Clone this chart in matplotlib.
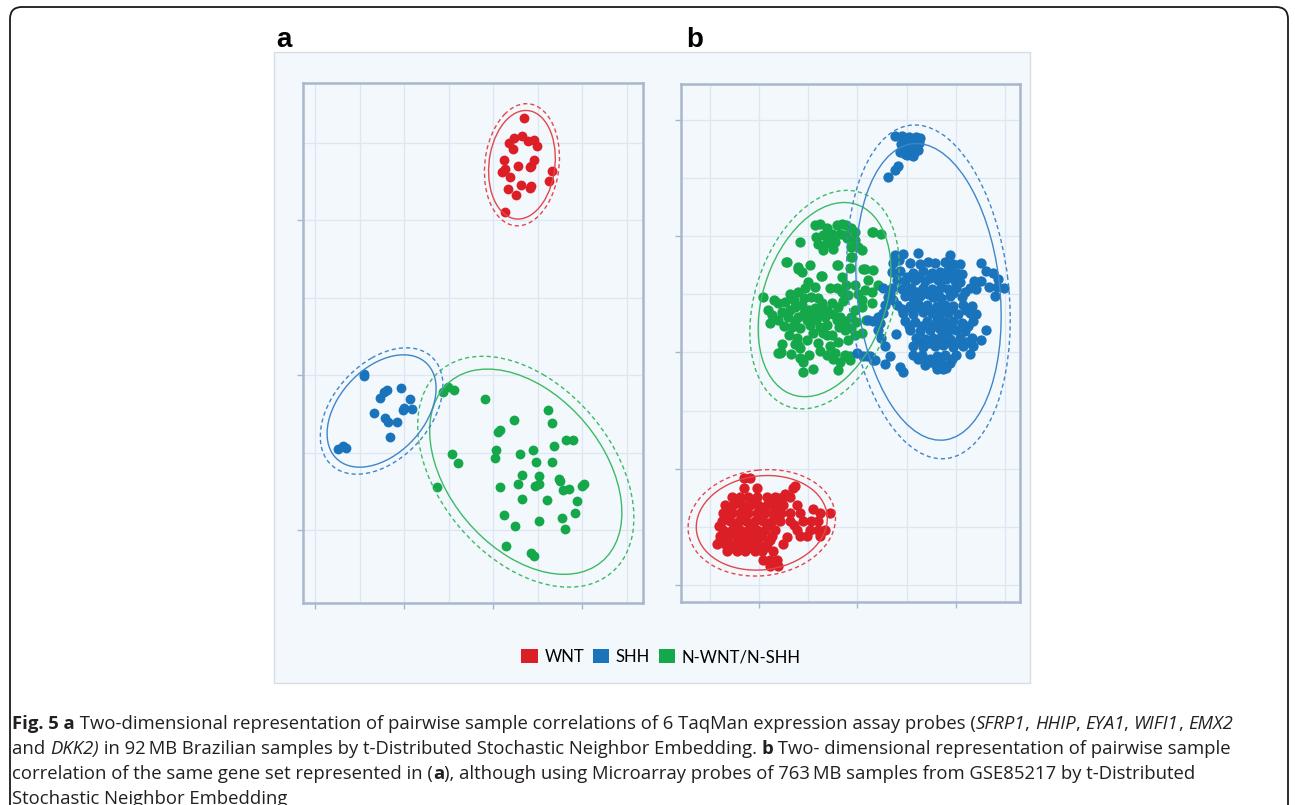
import numpy as np
import matplotlib
matplotlib.use('Agg')
import matplotlib.pyplot as plt
from matplotlib.patches import Ellipse, Patch, FancyBboxPatch, Rectangle
from matplotlib.transforms import IdentityTransform

# ---- panel a: 92 MB Brazilian samples (t-SNE coordinates) ----
a_wnt = [(13.5, 16.6), (11.8, 15.0), (12.4, 15.3), (13.3, 15.4), (13.9, 15.1), (14.6, 15.2),
         (14.9, 14.8), (12.3, 14.6), (11.2, 13.9), (14.6, 13.9), (14.3, 13.5), (14.1, 13.4),
         (11.3, 13.3), (11.0, 13.1), (12.8, 13.5), (11.9, 12.8), (16.6, 13.2), (16.3, 12.5),
         (13.1, 12.3), (11.7, 12.0), (14.3, 12.2), (14.1, 12.1), (12.6, 11.6), (11.4, 10.5)]
a_shh = [(-4.55, 0.1), (-4.5, -0.06), (-2.3, -1.08), (-1.94, -0.93), (-2.69, -1.49), (-0.37, -0.82),
         (0.67, -1.51), (0.86, -2.16), (-0.15, -2.26), (0.0, -2.15), (-3.32, -2.44), (-2.13, -2.74),
         (-1.75, -3.02), (-0.78, -3.04), (-1.6, -3.97), (-7.43, -4.74), (-6.87, -4.59), (-6.49, -4.72)]
a_other = [(4.4, -1.08), (4.96, -0.75), (5.6, -0.97), (9.07, -1.55), (12.31, -2.91), (16.16, -2.22),
           (16.57, -3.06), (10.56, -3.66), (10.75, -3.51), (18.2, -4.16), (19.03, -4.2), (16.8, -4.59),
           (10.37, -4.85), (10.22, -5.32), (5.34, -5.11), (6.08, -5.65), (13.02, -5.06), (14.48, -4.85),
           (14.85, -5.63), (16.6, -5.6), (13.28, -6.47), (15.15, -6.53), (14.74, -7.16), (15.15, -7.05),
           (12.8, -7.05), (10.82, -7.24), (17.43, -6.72), (17.57, -6.81), (17.84, -7.43), (18.5, -7.33),
           (20.0, -7.16), (20.26, -7.0), (19.4, -8.1), (13.25, -7.97), (16.04, -8.04), (3.73, -7.2),
           (11.23, -9.03), (12.5, -9.72), (15.11, -9.38), (17.76, -9.22), (19.18, -8.9), (18.13, -9.94),
           (11.46, -11.01), (14.29, -11.47), (14.59, -11.64)]

# ---- panel b: 763 MB samples from GSE85217 ----
b_wnt = [(-23.1, -21.6), (-21.8, -21.6),
         (-23.1, -23.3), (-20.4, -23.3), (-13.0, -23.3),
         (-25.5, -24.8), (-23.8, -24.8), (-22.1, -24.8), (-20.4, -24.8), (-18.4, -24.8), (-16.7, -24.8),
         (-15.0, -24.8), (-13.7, -24.8),
         (-26.9, -26.2), (-25.2, -26.2), (-23.5, -26.2), (-21.8, -26.2), (-20.1, -26.2), (-18.4, -26.2),
         (-16.7, -26.2), (-15.0, -26.2), (-12.3, -26.2),
         (-27.2, -27.6), (-25.5, -27.6), (-23.8, -27.6), (-22.1, -27.6), (-20.4, -27.6), (-18.7, -27.6),
         (-17.1, -27.6), (-15.4, -27.6), (-13.7, -27.6), (-11.6, -27.6), (-7.6, -27.6), (-5.6, -27.6),
         (-27.5, -29.0), (-25.8, -29.0), (-24.1, -29.0), (-22.5, -29.0), (-20.8, -29.0), (-19.1, -29.0),
         (-17.4, -29.0), (-15.7, -29.0), (-13.7, -29.0), (-11.0, -29.0), (-9.3, -29.0), (-7.9, -29.0),
         (-27.2, -30.5), (-25.5, -30.5), (-23.8, -30.5), (-22.1, -30.5), (-20.4, -30.5), (-18.7, -30.5),
         (-16.7, -30.5), (-12.3, -30.5), (-9.6, -30.5), (-7.9, -30.5), (-6.6, -30.5),
         (-27.9, -31.6), (-26.2, -31.6), (-24.5, -31.6), (-22.8, -31.6), (-21.1, -31.6), (-19.4, -31.6),
         (-17.4, -31.6), (-11.6, -31.6), (-10.3, -31.6), (-7.6, -31.6),
         (-28.5, -33.0), (-26.9, -33.0), (-25.2, -33.0), (-23.5, -33.0), (-21.8, -33.0), (-20.1, -33.0),
         (-18.4, -33.0), (-15.0, -33.0),
         (-26.5, -34.2), (-24.5, -34.2), (-22.8, -34.2), (-20.8, -34.2), (-19.4, -34.2), (-17.1, -34.2),
         (-19.1, -35.6), (-17.7, -35.6), (-16.4, -35.6),
         (-17.7, -36.8), (-16.0, -36.8),
         (-16.0, -25.0), (-14.7, -24.3), (-12.7, -23.0),
         (-24.6, -25.5), (-21.0, -25.4), (-17.5, -25.6), (-26.0, -26.9), (-22.6, -27.0), (-19.3, -26.8),
         (-16.0, -27.0), (-26.4, -28.3), (-23.0, -28.4), (-19.8, -28.2), (-16.4, -28.3), (-28.0, -29.8),
         (-24.9, -29.7), (-21.5, -29.9), (-18.0, -29.7), (-26.6, -31.0), (-23.3, -31.1), (-20.0, -30.9),
         (-27.8, -32.3), (-24.2, -32.4), (-20.9, -32.2), (-17.8, -32.3), (-25.6, -33.7), (-22.2, -33.6),
         (-18.6, -33.5), (-14.2, -31.8), (-12.8, -29.6), (-9.0, -27.0)]
b_shh = [(7.6, 16.7), (9.3, 16.9), (12.4, 17.1), (18.8, 16.8),
         (7.3, 15.3), (10.7, 15.4), (12.7, 15.2), (14.4, 15.5), (15.8, 15.3), (17.8, 15.6), (19.5, 15.2),
         (20.8, 15.1), (25.2, 15.4),
         (7.0, 13.8), (8.7, 14.0), (11.4, 13.7), (13.4, 13.9), (15.1, 13.6), (16.8, 13.8), (18.5, 14.1),
         (20.1, 13.7), (21.2, 13.5), (26.2, 14.0), (27.6, 13.6),
         (8.0, 12.4), (9.7, 12.2), (11.7, 12.5), (13.7, 12.3), (16.4, 12.4), (18.1, 12.6), (19.8, 12.3),
         (20.8, 12.1), (25.2, 12.3), (28.6, 12.6),
         (5.3, 11.0), (7.0, 11.1), (9.0, 10.9), (11.0, 11.1), (13.4, 11.0), (15.1, 10.8), (17.1, 11.2),
         (18.5, 10.9), (20.1, 11.0), (22.8, 11.1), (24.2, 10.8), (28.3, 11.3), (29.9, 11.0),
         (6.3, 9.5), (9.7, 9.6), (11.4, 9.4), (12.7, 9.7), (15.4, 9.5), (17.1, 9.3), (18.8, 9.6),
         (21.2, 9.5), (27.9, 9.6),
         (5.6, 8.1), (8.0, 8.2), (10.7, 8.0), (12.4, 8.3), (14.1, 8.1), (16.1, 7.9), (17.8, 8.2),
         (19.5, 8.0), (21.5, 8.1), (23.2, 7.9),
         (5.3, 6.7), (9.3, 6.8), (11.4, 6.6), (13.4, 6.9), (15.1, 6.7), (16.8, 6.5), (18.5, 6.8),
         (20.5, 6.6), (22.8, 6.7), (24.2, 6.5),
         (3.2, 5.3), (4.6, 5.0), (9.7, 5.4), (11.7, 5.2), (14.1, 5.3), (16.1, 5.5), (17.8, 5.2),
         (19.5, 5.4), (21.2, 5.1), (23.5, 5.3),
         (4.3, 3.8), (10.7, 3.9), (12.7, 3.7), (14.7, 3.8), (16.8, 4.0), (18.5, 3.7), (20.1, 3.9),
         (21.8, 3.6), (26.2, 3.8),
         (4.9, 2.4), (12.0, 2.5), (13.7, 2.3), (15.4, 2.4), (17.1, 2.6), (18.8, 2.3), (20.8, 2.4),
         (23.2, 2.5), (25.2, 2.2),
         (5.6, 1.0), (11.4, 1.1), (13.4, 0.9), (15.8, 1.0), (17.4, 1.2), (19.5, 0.9), (21.5, 1.0),
         (23.5, 1.1),
         (6.6, -0.6), (11.4, -0.4), (13.1, -0.5), (16.1, -0.6), (17.8, -0.4), (20.1, -0.5), (22.8, -0.3),
         (5.6, -2.0), (14.1, -1.9), (15.8, -2.0), (17.1, -1.8), (18.8, -1.9),
         (1.9, -0.7), (3.6, -1.3), (8.7, -2.6), (9.3, -3.3), (18.1, -2.7),
         (16.1, -2.8), (17.4, -2.9), (13.7, -2.2), (-0.1, -0.2), (1.2, -0.7), (2.6, -0.7), (3.2, -1.3),
         (2.2, 5.5), (4.2, 6.0), (6.6, 10.1), (7.6, 16.4),
         (10.2, 12.9), (12.5, 13.0), (14.8, 12.8), (17.2, 13.0), (19.2, 12.9), (10.0, 10.2), (12.2, 10.4),
         (14.3, 10.1), (16.3, 10.3), (19.5, 10.2), (21.8, 10.3), (9.1, 7.5), (11.2, 7.4), (13.0, 7.6),
         (15.0, 7.3), (17.0, 7.5), (19.0, 7.4), (22.0, 7.3), (10.5, 4.6), (13.2, 4.5), (15.3, 4.6),
         (17.3, 4.5), (19.0, 4.7), (22.4, 4.6), (13.0, 1.7), (14.6, 1.6), (16.5, 1.8), (18.2, 1.7),
         (20.0, 1.6), (22.2, 1.8), (12.3, -1.2), (14.8, -1.1), (16.9, -1.2), (19.2, -1.1), (7.8, 3.2),
         (7.2, 9.0), (8.4, 15.9), (23.8, 12.2), (26.8, 11.2),
         # tight group at the top
         (8.6, 34.5), (8.9, 35.8), (9.3, 36.8), (9.6, 34.1), (9.9, 35.2), (10.2, 36.4), (10.5, 37.0),
         (10.7, 34.6), (11.0, 35.7), (11.2, 36.7), (11.5, 34.2), (11.8, 35.3), (12.1, 36.3), (12.3, 34.8),
         (12.6, 35.9), (12.8, 36.8), (10.1, 33.9), (11.3, 33.8), (12.0, 37.0), (9.0, 37.1), (7.7, 37.2),
         (10.6, 35.6), (8.3, 32.0), (7.7, 31.4), (6.3, 30.1)]
b_other = [(-8.6, 21.8), (-7.6, 22.1), (-6.2, 21.3), (-8.3, 19.8), (-6.9, 20.1), (-5.2, 20.4),
           (-4.2, 21.8), (-3.2, 22.1), (-2.2, 21.8), (-1.2, 21.3), (-3.5, 20.4), (-2.5, 20.1),
           (-0.5, 20.7), (-0.5, 19.3), (-6.2, 18.7), (-4.5, 19.0), (-6.9, 17.5), (-1.2, 18.1),
           (0.2, 18.1), (0.9, 17.5), (3.2, 20.7), (4.9, 20.4), (-11.6, 19.0), (-1.2, 16.4),
           (-14.3, 15.5), (-12.0, 14.7), (-11.3, 13.8), (-7.2, 13.1), (-4.2, 15.0), (-3.2, 13.0),
           (1.6, 14.4), (3.2, 14.1), (-5.6, 11.0), (-4.2, 11.0), (-3.2, 10.4), (-2.2, 11.5),
           (-0.5, 11.5), (0.2, 10.1), (1.6, 10.7), (2.9, 10.4), (4.3, 11.5), (0.9, 9.0), (2.9, 8.4),
           (-19.1, 9.5), (-18.1, 7.3), (-17.4, 6.4), (-17.7, 5.0), (-16.0, 8.4), (-14.7, 8.7),
           (-13.7, 10.1), (-12.0, 10.4), (-10.6, 11.0), (-9.3, 9.5), (-7.9, 9.3), (-7.2, 8.4),
           (-6.2, 7.3), (-13.7, 7.3), (-12.6, 7.8), (-11.3, 8.1), (-9.9, 7.3), (-8.9, 6.1),
           (-10.3, 5.5), (-8.3, 5.5), (-6.6, 6.1), (-14.0, 6.1), (-15.3, 7.0), (-12.0, 6.1),
           (-13.3, 4.4), (-11.6, 4.1), (-9.6, 4.7), (-7.6, 4.4), (-6.2, 4.7), (-3.9, 7.8),
           (-3.5, 6.1), (-2.5, 5.3), (-1.2, 6.1), (-0.5, 7.3), (0.9, 7.8), (-1.2, 4.1), (-0.5, 3.0),
           (0.9, 3.3), (-2.5, 3.8), (-4.2, 5.5), (-6.2, 3.0), (-5.2, 3.0),
           (-15.3, 1.5), (-16.0, -0.2), (-12.3, 2.4), (-12.0, 1.3), (-11.6, -1.0), (-11.0, -1.6),
           (-11.0, -3.3), (-8.9, -2.9), (-5.6, 1.0), (-6.2, -0.5), (-4.5, -0.2), (-2.5, -0.7),
           (-3.5, -1.6), (-3.9, -3.0), (-1.5, -0.7), (-15.7, -0.2), (-15.4, 0.1), (-12.7, 1.5),
           (-11.6, 0.7), (-2.5, -0.5), (-1.5, -1.3), (-14.4, 15.6), (-12.0, 14.4), (-7.3, 13.1),
           (-3.9, 15.0), (-1.0, 16.3), (1.2, 14.4), (2.9, 20.7),
           (-10.0, 12.0), (-8.5, 11.2), (-17.0, 9.0), (-12.8, 9.0), (-10.8, 9.4), (-8.6, 7.6),
           (-5.2, 8.5), (-2.8, 8.9), (-1.8, 9.8), (-4.9, 6.6), (-7.3, 6.9), (-10.9, 6.8), (-12.7, 5.4),
           (-16.2, 5.6), (-14.8, 4.6), (-9.0, 3.3), (-7.0, 3.3), (-3.7, 4.4), (-0.2, 5.2), (1.8, 5.6),
           (-13.9, 2.9), (-10.3, 2.2), (-8.0, 1.6), (-4.0, 1.8), (-1.8, 2.1), (-13.5, -0.3),
           (-7.6, 0.2), (-5.0, -1.2), (-9.8, -0.5), (-6.0, 19.4), (-2.0, 19.6), (-5.0, 17.8),
           (-8.0, 18.6), (-1.5, 14.5), (2.2, 12.5), (-9.5, 15.0)]

groups = ['WNT', 'SHH', 'N-WNT/N-SHH']
colors = {'WNT': '#dc1f26', 'SHH': '#1a74bb', 'N-WNT/N-SHH': '#15a84a'}
line_colors = {'WNT': '#e2474a', 'SHH': '#3f86c8', 'N-WNT/N-SHH': '#3dba63'}

W, H = 1295, 805
fig = plt.figure(figsize=(W / 100, H / 100), dpi=100)
fig.patch.set_facecolor('white')

# outer rounded frame and light panel behind the two plots
fig.patches.append(FancyBboxPatch((10, -30), 1278, 828, boxstyle='round,pad=0,rounding_size=12',
                                  transform=IdentityTransform(), fill=False, edgecolor='#1a1a1a',
                                  lw=1.3, zorder=-2))
fig.patches.append(Rectangle((274, H - 683), 756, 631, transform=IdentityTransform(),
                             facecolor='#f3f8fc', edgecolor='#d6dde6', lw=1, zorder=-1))


def add_ellipse(ax, pts, k, color, ls):
    p = np.asarray(pts, dtype=float)
    vals, vecs = np.linalg.eigh(np.cov(p[:, 0], p[:, 1]))
    ang = np.degrees(np.arctan2(vecs[1, 1], vecs[0, 1]))
    ax.add_patch(Ellipse(p.mean(axis=0), 2 * k * np.sqrt(vals[1]), 2 * k * np.sqrt(vals[0]),
                         angle=ang, fill=False, edgecolor=color, lw=1.0, ls=ls, zorder=3))


def style(ax, xlim, ylim, xmaj, xmin, ymaj, ymin):
    ax.set_xlim(xlim)
    ax.set_ylim(ylim)
    ax.set_xticks(xmaj)
    ax.set_xticks(xmin, minor=True)
    ax.set_yticks(ymaj)
    ax.set_yticks(ymin, minor=True)
    ax.set_xticklabels([])
    ax.set_yticklabels([])
    ax.tick_params(which='major', length=4, width=1, color='#a9b7ce')
    ax.tick_params(which='minor', length=0)
    ax.grid(which='both', color='#dde7f3', lw=0.9)
    ax.set_axisbelow(True)
    ax.set_facecolor('#f3f8fd')
    for sp in ax.spines.values():
        sp.set_color('#a9b7ce')
        sp.set_linewidth(1.8)


def panel(ax, data, size):
    for g in ['N-WNT/N-SHH', 'SHH', 'WNT']:
        p = np.asarray(data[g])
        ax.scatter(p[:, 0], p[:, 1], s=size, color=colors[g], linewidths=0, zorder=2)
        add_ellipse(ax, data[g], 2.4, line_colors[g], '-')
        add_ellipse(ax, data[g], 2.7, line_colors[g], (0, (3, 2.2)))


ax_a = fig.add_axes([303 / W, (H - 603) / H, 340 / W, 520 / H])
panel(ax_a, {'WNT': a_wnt, 'SHH': a_shh, 'N-WNT/N-SHH': a_other}, 50)
style(ax_a, (-11.35, 26.85), (-14.7, 18.85), [-10, 0, 10, 20], np.arange(-10, 26, 5),
      [-10, 0, 10], np.arange(-10, 16, 5))

ax_b = fig.add_axes([681 / W, (H - 602) / H, 339 / W, 518 / H])
panel(ax_b, {'WNT': b_wnt, 'SHH': b_shh, 'N-WNT/N-SHH': b_other}, 55)
style(ax_b, (-35.8, 33.05), (-42.9, 46.1), [-20, 0, 20], np.arange(-30, 31, 10),
      [-40, -20, 0, 20, 40], np.arange(-40, 41, 10))

fig.text(276, H - 47, 'a', transform=IdentityTransform(), fontsize=20, fontweight='bold',
         family='Liberation Sans', va='baseline')
fig.text(686, H - 47, 'b', transform=IdentityTransform(), fontsize=20, fontweight='bold',
         family='Liberation Sans', va='baseline')

handles = [Patch(facecolor=colors[g], edgecolor='none', label=g) for g in groups]
fig.legend(handles=handles, loc='center', bbox_to_anchor=(661 / W, 1 - 657 / H), ncol=3,
           frameon=False, handlelength=1.0, handleheight=0.9, handletextpad=0.4,
           columnspacing=0.5, prop={'family': 'Lato', 'size': 12})

# caption with mixed bold / italic runs
caption = [
    [('Fig. 5 a', 'b'), (' Two-dimensional representation of pairwise sample correlations of 6 TaqMan '
                          'expression assay probes (', 'n'), ('SFRP1', 'i'), (', ', 'n'), ('HHIP', 'i'),
     (', ', 'n'), ('EYA1', 'i'), (', ', 'n'), ('WIFI1', 'i'), (', ', 'n'), ('EMX2', 'i')],
    [('and ', 'n'), ('DKK2)', 'i'), (' in 92\u2009MB Brazilian samples by t-Distributed Stochastic Neighbor '
                                       'Embedding. ', 'n'), ('b', 'b'),
     (' Two- dimensional representation of pairwise sample', 'n')],
    [('correlation of the same gene set represented in (', 'n'), ('a', 'b'),
     ('), although using Microarray probes of 763\u2009MB samples from GSE85217 by t-Distributed', 'n')],
    [('Stochastic Neighbor Embedding', 'n')],
]
renderer = fig.canvas.get_renderer()


def run_width(s, kw):
    t1 = fig.text(0, 0, '|' + s + '|', **kw)
    t0 = fig.text(0, 0, '||', **kw)
    w = t1.get_window_extent(renderer).width - t0.get_window_extent(renderer).width
    t1.remove()
    t0.remove()
    return w


for i, line in enumerate(caption):
    x = 12
    y = H - (728.5 + i * 25.0)
    for s, st in line:
        kw = dict(fontsize=13.3, family=['Open Sans', 'DejaVu Sans'], color='#231f20')
        if st == 'b':
            kw['fontweight'] = 'bold'
        if st == 'i':
            kw['fontstyle'] = 'italic'
        fig.text(x, y, s, transform=IdentityTransform(), va='baseline', ha='left', **kw)
        x += run_width(s, kw)

fig.savefig('out.png', dpi=100)
